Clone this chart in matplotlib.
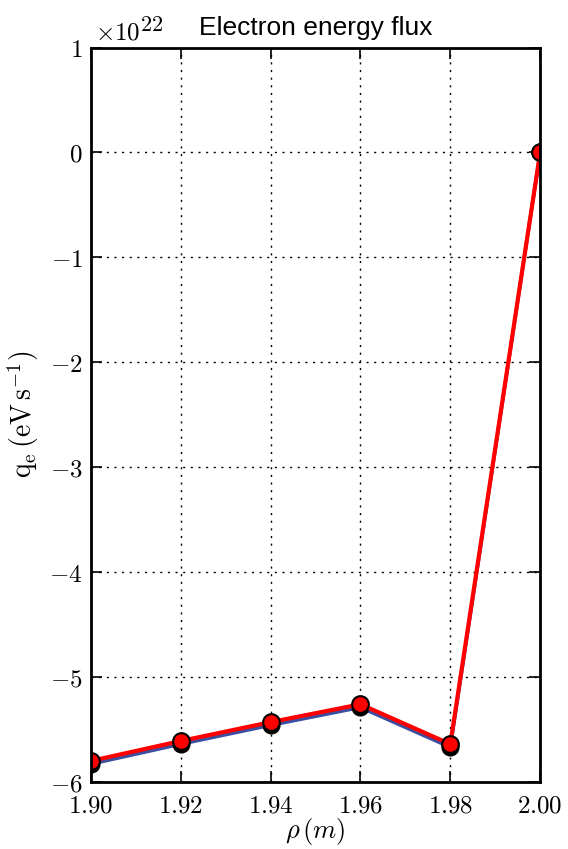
import matplotlib
matplotlib.use('Agg')
from matplotlib import pyplot as plt

rho = [1.90, 1.92, 1.94, 1.96, 1.98, 2.00]
# two profiles, values in units of 1e22
qe_a = [-5.83, -5.64, -5.46, -5.29, -5.67, 0.0]
qe_b = [-5.80, -5.61, -5.43, -5.26, -5.64, 0.0]

plt.rcParams['mathtext.fontset'] = 'cm'
plt.rcParams['font.size'] = 16

fig = plt.figure(figsize=(5.68, 8.49), dpi=100)
ax = fig.add_axes([0.160, 0.079, 0.791, 0.865])

ax.plot(rho, qe_a, '-o', color='#3a4fa0', lw=2.5,
        mfc='black', mec='black', ms=12)
ax.plot(rho, qe_b, '-o', color='red', lw=3,
        mfc='red', mec='black', mew=1.5, ms=12)

ax.set_xlim(1.90, 2.00)
ax.set_ylim(-6, 1)
ax.set_xticks([1.90, 1.92, 1.94, 1.96, 1.98, 2.00])
ax.set_yticks(range(-6, 2))
ax.xaxis.set_major_formatter(plt.FormatStrFormatter(r'$%.2f$'))
ax.yaxis.set_major_formatter(plt.FuncFormatter(lambda v, p: r'$%d$' % round(v)))
ax.grid(True, color='black', linestyle=(0, (1.5, 4)), lw=1)

for s in ax.spines.values():
    s.set_linewidth(2)
ax.tick_params(direction='in', length=8, width=1.2, top=True, right=True,
               labelsize=18, pad=6)
ax.tick_params(axis='x', pad=8)

# multiplier label, like the offset text
ax.annotate(r'$\times10$', (0, 1), xycoords='axes fraction',
            xytext=(4, 8), textcoords='offset pixels', fontsize=18,
            ha='left', va='baseline')
ax.annotate(r'$22$', (0, 1), xycoords='axes fraction',
            xytext=(49, 17), textcoords='offset pixels', fontsize=16,
            ha='left', va='baseline')

ax.set_title('Electron energy flux', fontsize=19,
             family='Liberation Sans', pad=9)
ax.set_xlabel(r'$\rho\,(m)$', fontsize=19, labelpad=-1)
ax.set_ylabel(r'$\mathrm{q_e\,(eV\,s^{-1})}$', fontsize=20, labelpad=6)

fig.savefig('out.png', dpi=100)
